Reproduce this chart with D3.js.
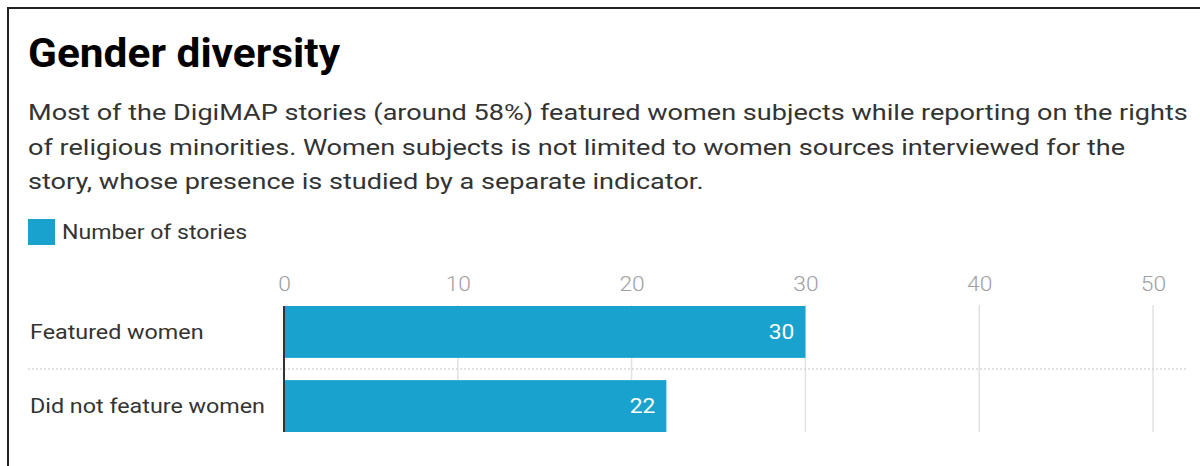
<!DOCTYPE html>
<html>
<head>
<meta charset="utf-8">
<script src="https://cdn.jsdelivr.net/npm/d3@7"></script>
<style>
  html, body { margin: 0; padding: 0; background: #fff; }
  svg { display: block; }
</style>
</head>
<body>
<svg id="chart" width="1200" height="466"></svg>
<script>
const title = "Gender diversity";
const subtitleLines = [
  "Most of the DigiMAP stories (around 58%) featured women subjects while reporting on the rights",
  "of religious minorities. Women subjects is not limited to women sources interviewed for the",
  "story, whose presence is studied by a separate indicator."
];
const seriesName = "Number of stories";
const categories = ["Featured women", "Did not feature women"];
const values = [30, 22];
const ticks = [0, 10, 20, 30, 40, 50];

const svg = d3.select("#chart");
const font = "Roboto, 'Noto Sans', sans-serif";
const barColor = "#1aa2ce";

// horizontally stretched text helper (anchor point px,py)
function stext(sel, px, py, sx) {
  return sel.attr("x", 0).attr("y", 0)
    .attr("transform", `translate(${px},${py}) scale(${sx},1)`);
}

// frame (top & left border)
svg.append("path")
  .attr("d", "M8,470 L8,8 L1204,8")
  .attr("fill", "none").attr("stroke", "#222").attr("stroke-width", 2);

// title
stext(svg.append("text"), 28, 67, 1.035)
  .attr("font-family", font).attr("font-weight", 700).attr("font-size", 41)
  .attr("fill", "#000").text(title);

// subtitle
svg.append("g").selectAll("text").data(subtitleLines).join("text")
  .each(function(d, i) { stext(d3.select(this), 28, 120 + i * 34.7, 1.204); })
  .attr("font-family", font).attr("font-size", 22.5).attr("fill", "#333")
  .text(d => d);

// legend
svg.append("rect").attr("x", 28).attr("y", 219).attr("width", 27).attr("height", 26).attr("fill", barColor);
stext(svg.append("text"), 62, 239, 1.155)
  .attr("font-family", font).attr("font-size", 20).attr("fill", "#333").text(seriesName);

// scales
const x = d3.scaleLinear().domain([0, 50]).range([284, 1153]);
const y = d3.scaleBand().domain(categories).range([306, 432]).paddingInner(0.3).paddingOuter(0);

// gridlines
svg.append("g").selectAll("line").data(ticks.filter(t => t > 0)).join("line")
  .attr("x1", d => x(d)).attr("x2", d => x(d))
  .attr("y1", 305).attr("y2", 432)
  .attr("stroke", "#e2e2e2").attr("stroke-width", 1.5);

// tick labels
const axis = d3.axisTop(x).tickValues(ticks).tickSize(0).tickPadding(0);
const axG = svg.append("g").attr("transform", "translate(0,291)").call(axis);
axG.select(".domain").remove();
axG.selectAll("text").attr("font-family", font).attr("font-weight", 300)
  .attr("font-size", 20).attr("fill", "#a0a0a0")
  .attr("transform", "scale(1.14,1)");

// dotted separator
svg.append("line").attr("x1", 28).attr("x2", 1188)
  .attr("y1", 369).attr("y2", 369)
  .attr("stroke", "#c8c8c8").attr("stroke-width", 1.2).attr("stroke-dasharray", "2,2");

// bars
svg.append("g").selectAll("rect").data(values).join("rect")
  .attr("x", x(0)).attr("y", (d, i) => y(categories[i]))
  .attr("width", d => x(d) - x(0)).attr("height", y.bandwidth())
  .attr("fill", barColor);

// zero line
svg.append("line").attr("x1", x(0)).attr("x2", x(0))
  .attr("y1", 306).attr("y2", 432).attr("stroke", "#333").attr("stroke-width", 2);

// value labels
svg.append("g").selectAll("text").data(values).join("text")
  .each(function(d, i) { stext(d3.select(this), x(d) - 11, y(categories[i]) + y.bandwidth() / 2, 1.14); })
  .attr("dy", "0.35em").attr("text-anchor", "end")
  .attr("font-family", font).attr("font-size", 20).attr("fill", "#fff")
  .text(d => d);

// category labels
svg.append("g").selectAll("text").data(categories).join("text")
  .each(function(d) { stext(d3.select(this), 30, y(d) + y.bandwidth() / 2, 1.11); })
  .attr("dy", "0.35em")
  .attr("font-family", font).attr("font-size", 21).attr("fill", "#333")
  .text(d => d);
</script>
</body>
</html>
